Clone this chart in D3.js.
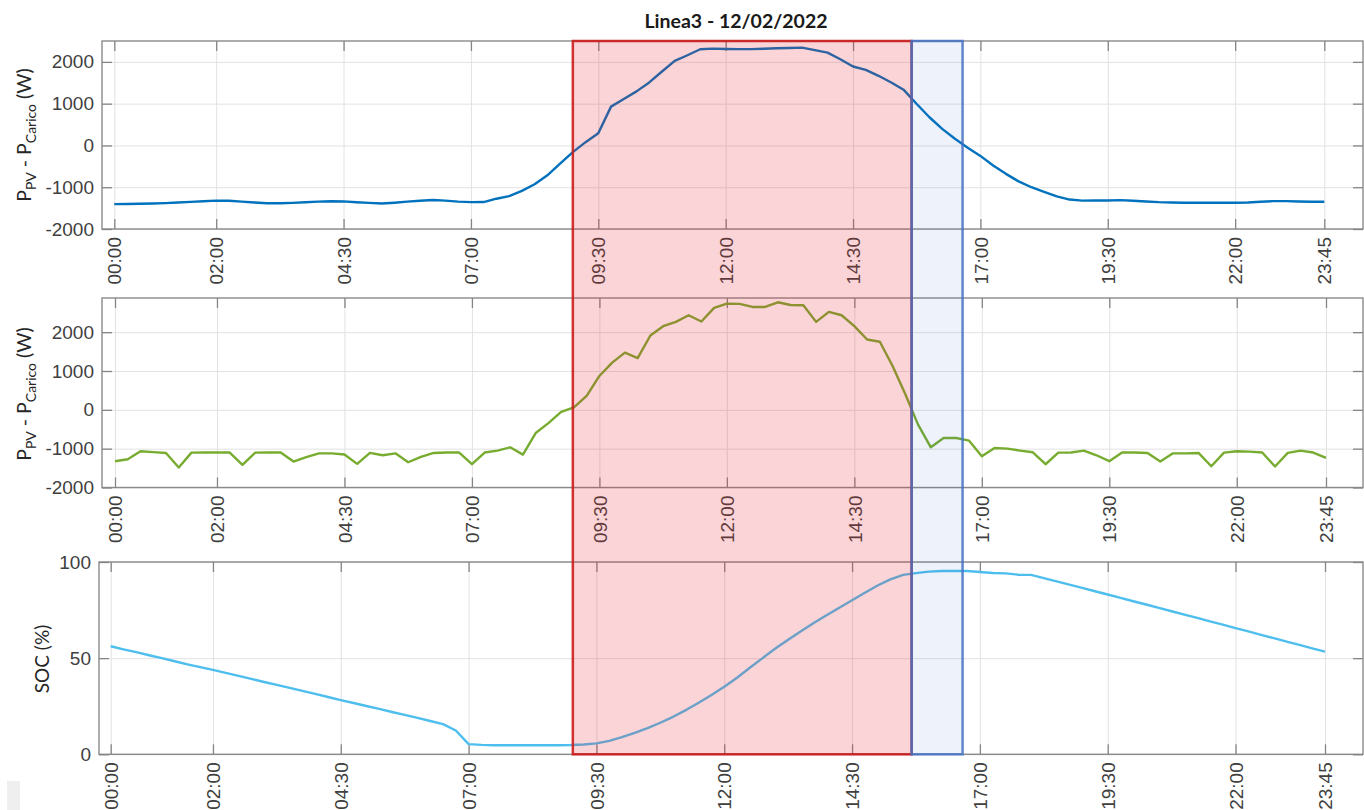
<!DOCTYPE html>
<html>
<head>
<meta charset="utf-8">
<script src="https://cdn.jsdelivr.net/npm/d3@7"></script>
<style>
  body { margin: 0; background: #fff; }
  svg { display: block; font-family: Lato, "Open Sans", sans-serif; }
  .grid line { stroke: #e2e2e2; stroke-width: 1; }
  .grid path, .axis path { display: none; }
  .axis line { stroke: #858585; stroke-width: 1.3; }
  .axis text { fill: #3f3f3f; font-size: 19px; }
</style>
</head>
<body>
<svg width="1364" height="810"></svg>
<script>
// campionamento ogni 15 minuti, 00:00 -> 23:45
const stepMinutes = 15;
const nSamples = 96;
const minutes = d3.range(nSamples).map(i => i * stepMinutes);

const tickLabels = ['00:00', '02:00', '04:30', '07:00', '09:30', '12:00', '14:30', '17:00', '19:30', '22:00', '23:45'];

// pannello 1: P_PV - P_Carico (W), linea liscia
const potenzaNetta = [
  -1405, -1400, -1395, -1390, -1380, -1365, -1350, -1335, -1320, -1325, -1345, -1365,
  -1385, -1385, -1375, -1360, -1345, -1335, -1340, -1360, -1375, -1390, -1370, -1345,
  -1325, -1305, -1320, -1345, -1357, -1355, -1275, -1214, -1087, -929, -714, -437,
  -160, 79, 293, 929, 1111, 1294, 1508, 1770, 2024, 2159, 2302, 2317,
  2310, 2305, 2305, 2315, 2325, 2333, 2341, 2280, 2222, 2063, 1889, 1810,
  1667, 1508, 1325, 992, 675, 397, 159, -56, -250, -480, -680, -860,
  -1000, -1110, -1220, -1295, -1320, -1317, -1317, -1310, -1325, -1341, -1357, -1365,
  -1373, -1373, -1373, -1373, -1373, -1365, -1349, -1333, -1333, -1341, -1349, -1349
];

// pannello 2: P_PV - P_Carico (W), misurata
const potenzaMisurata = [
  -1323, -1272, -1067, -1090, -1110, -1487, -1102, -1100, -1100, -1100, -1418, -1102,
  -1100, -1100, -1333, -1220, -1120, -1120, -1150, -1392, -1110, -1170, -1120, -1350,
  -1210, -1110, -1100, -1100, -1400, -1100, -1051, -965, -1153, -597, -341, -51,
  62, 359, 872, 1215, 1472, 1333, 1915, 2154, 2265, 2436, 2274, 2625,
  2736, 2728, 2650, 2650, 2770, 2701, 2693, 2265, 2522, 2436, 2154, 1812,
  1753, 1128, 400, -380, -965, -726, -726, -794, -1196, -982, -1000, -1050,
  -1093, -1401, -1102, -1100, -1051, -1170, -1323, -1100, -1100, -1110, -1333, -1120,
  -1120, -1110, -1453, -1102, -1067, -1075, -1100, -1460, -1110, -1051, -1100, -1238
];

// pannello 3: SOC (%)
const soc = [
  56.2, 54.6, 53.1, 51.5, 50.0, 48.4, 46.8, 45.3, 43.9, 42.3, 40.8, 39.2,
  37.6, 36.1, 34.5, 33.0, 31.4, 29.8, 28.2, 26.7, 25.1, 23.6, 22.0, 20.5,
  18.9, 17.3, 15.7, 12.4, 5.3, 4.9, 4.7, 4.7, 4.7, 4.7, 4.7, 4.7,
  4.8, 5.1, 5.7, 7.0, 8.9, 11.1, 13.6, 16.4, 19.5, 23.0, 26.8, 30.8,
  35.1, 39.8, 45.0, 50.0, 55.0, 59.6, 64.0, 68.3, 72.3, 76.2, 80.1, 84.0,
  87.8, 91.0, 93.3, 94.2, 95.0, 95.3, 95.3, 95.3, 94.8, 94.3, 94.1, 93.4,
  93.3, 91.6, 89.9, 88.2, 86.5, 84.8, 83.1, 81.3, 79.6, 77.9, 76.1, 74.4,
  72.6, 70.9, 69.1, 67.4, 65.6, 63.9, 62.1, 60.4, 58.6, 56.9, 55.1, 53.4
];

// intervalli evidenziati (minuti dalla mezzanotte)
const zonaCarica = [540, 939];
const zonaPicco = [939, 999];

const toMin = s => { const [h, m] = s.split(':').map(Number); return h * 60 + m; };
const tickMinutes = tickLabels.map(toMin);

const svg = d3.select('svg');

const panels = [
  { data: potenzaNetta, color: '#0072bd', left: 102, right: 1363, top: 41, bottom: 229,
    xr: [114.3, 1324.3], domain: [-2000, 2500], yTicks: [-2000, -1000, 0, 1000, 2000],
    label: 'power', labelPos: [31, 135] },
  { data: potenzaMisurata, color: '#77ac30', left: 102, right: 1363, top: 298, bottom: 487.5,
    xr: [115, 1326], domain: [-2000, 2880], yTicks: [-2000, -1000, 0, 1000, 2000],
    label: 'power', labelPos: [31, 394] },
  { data: soc, color: '#4dbeee', left: 99, right: 1363, top: 562, bottom: 754.3,
    xr: [110.7, 1325], domain: [0, 100], yTicks: [0, 50, 100],
    label: 'soc', labelPos: [49, 659] }
];

panels.forEach(p => {
  p.x = d3.scaleLinear().domain([0, toMin('23:45')]).range(p.xr);
  p.y = d3.scaleLinear().domain(p.domain).range([p.bottom, p.top]);

  const g = svg.append('g');

  // griglia
  g.append('g').attr('class', 'grid')
    .attr('transform', `translate(0,${p.bottom})`)
    .call(d3.axisBottom(p.x).tickValues(tickMinutes).tickSize(-(p.bottom - p.top)).tickFormat(''));
  g.append('g').attr('class', 'grid')
    .attr('transform', `translate(${p.left},0)`)
    .call(d3.axisLeft(p.y).tickValues(p.yTicks).tickSize(-(p.right - p.left)).tickFormat(''));

  // bordo
  g.append('rect')
    .attr('x', p.left).attr('y', p.top)
    .attr('width', p.right - p.left).attr('height', p.bottom - p.top)
    .attr('fill', 'none').attr('stroke', '#8a8a8a').attr('stroke-width', 1.4);

  // assi con tacche interne
  const xb = g.append('g').attr('class', 'axis')
    .attr('transform', `translate(0,${p.bottom})`)
    .call(d3.axisBottom(p.x).tickValues(tickMinutes).tickSizeInner(-10).tickSizeOuter(0)
      .tickFormat((d, i) => tickLabels[i]));
  xb.selectAll('text')
    .attr('transform', 'rotate(-90)')
    .attr('x', -8).attr('y', 0).attr('dy', '0.35em')
    .style('text-anchor', 'end');

  g.append('g').attr('class', 'axis')
    .attr('transform', `translate(0,${p.top})`)
    .call(d3.axisTop(p.x).tickValues(tickMinutes).tickSizeInner(-10).tickSizeOuter(0).tickFormat(''));

  g.append('g').attr('class', 'axis')
    .attr('transform', `translate(${p.left},0)`)
    .call(d3.axisLeft(p.y).tickValues(p.yTicks).tickSizeInner(-10).tickSizeOuter(0)
      .tickPadding(8).tickFormat(d => String(d)));

  g.append('g').attr('class', 'axis')
    .attr('transform', `translate(${p.right},0)`)
    .call(d3.axisRight(p.y).tickValues(p.yTicks).tickSizeInner(-10).tickSizeOuter(0).tickFormat(''));

  // serie
  const line = d3.line()
    .x((d, i) => p.x(minutes[i]))
    .y(d => p.y(d));
  g.append('path')
    .datum(p.data)
    .attr('fill', 'none')
    .attr('stroke', p.color)
    .attr('stroke-width', 2.4)
    .attr('stroke-linejoin', 'round')
    .attr('d', line);

  // etichetta asse y
  const t = g.append('text')
    .attr('transform', `translate(${p.labelPos[0]},${p.labelPos[1]}) rotate(-90)`)
    .attr('text-anchor', 'middle')
    .attr('fill', '#262626')
    .style('font-size', '19.5px');
  if (p.label === 'power') {
    t.append('tspan').text('P');
    t.append('tspan').attr('dy', 5).style('font-size', '14px').text('PV');
    t.append('tspan').attr('dy', -5).text(' - P');
    t.append('tspan').attr('dy', 5).style('font-size', '14px').text('Carico');
    t.append('tspan').attr('dy', -5).text(' (W)');
  } else {
    t.style('font-size', '19px').text('SOC (%)');
  }
});

// titolo
svg.append('text')
  .attr('x', 736).attr('y', 28)
  .attr('text-anchor', 'middle')
  .attr('fill', '#1a1a1a')
  .style('font-size', '19.5px').style('font-weight', 'bold')
  .text('Linea3 - 12/02/2022');

// riquadri evidenziati sopra i grafici
const xs = panels[0].x;
const yTop = panels[0].top;
const yBot = panels[2].bottom;

svg.append('rect')
  .attr('x', xs(zonaCarica[0])).attr('y', yTop)
  .attr('width', xs(zonaCarica[1]) - xs(zonaCarica[0])).attr('height', yBot - yTop)
  .attr('fill', '#e62832').attr('fill-opacity', 0.2)
  .attr('stroke', '#cc1c1c').attr('stroke-opacity', 0.9).attr('stroke-width', 2.5);

svg.append('rect')
  .attr('x', xs(zonaPicco[0])).attr('y', yTop)
  .attr('width', xs(zonaPicco[1]) - xs(zonaPicco[0])).attr('height', yBot - yTop)
  .attr('fill', '#4472c4').attr('fill-opacity', 0.09)
  .attr('stroke', '#4472c4').attr('stroke-opacity', 0.85).attr('stroke-width', 2.5);

// piccolo riquadro grigio in basso a sinistra
svg.append('rect')
  .attr('x', 7).attr('y', 781).attr('width', 13).attr('height', 29)
  .attr('fill', '#efefef');
</script>
</body>
</html>
